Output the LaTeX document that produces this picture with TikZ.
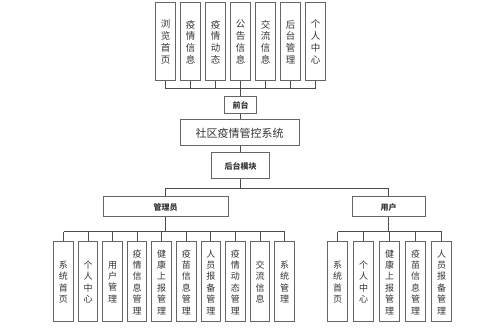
\documentclass[tikz,border=0pt]{standalone}
\usepackage{fontspec}
\setmainfont{Noto Sans CJK SC}
\usepackage{tikz}
\usetikzlibrary{positioning,calc}

\begin{document}
\begin{tikzpicture}[
  x=1pt, y=-1pt,
  every node/.style={font=\small, text=black!80},
  colbox/.style={draw=black!60, line width=1pt, minimum width=19.5pt,
                 minimum height=78pt, inner sep=0pt, align=center,
                 font=\fontsize{9.5}{11.8}\selectfont},
  subbox/.style={colbox, minimum height=80pt, font=\fontsize{9}{11.4}\selectfont},
  headbox/.style={draw=black!60, line width=1pt, minimum height=20pt, inner sep=0pt,
                  font=\fontsize{8}{9}\selectfont\bfseries},
  link/.style={draw=black!70, line width=1pt},
]
  \useasboundingbox (0,0) rectangle (499,331);
  % Front pages
  \node[colbox] (f1) at (165.5,42) {浏\\览\\首\\页};
  \node[colbox] (f2) at (190.5,42) {疫\\情\\信\\息};
  \node[colbox] (f3) at (215.5,42) {疫\\情\\动\\态};
  \node[colbox] (f4) at (240.5,42) {公\\告\\信\\息};
  \node[colbox] (f5) at (265.5,42) {交\\流\\信\\息};
  \node[colbox] (f6) at (290.5,42) {后\\台\\管\\理};
  \node[colbox] (f7) at (315.5,42) {个\\人\\中\\心};
  \coordinate (fbus) at (240.5,89);

  % Middle
  \node[headbox, minimum width=32pt, minimum height=17pt] (qt) at (240.5,105.5) {前台};
  \node[headbox, minimum width=119pt, minimum height=26pt,
        font=\fontsize{11}{12}\selectfont] (sys) at (239.5,133) {社区疫情管控系统};
  \node[headbox, minimum width=58pt, minimum height=26pt] (ht) at (240.5,166) {后台模块};
  \coordinate (hbus) at (240.5,189);

  % Roles
  \node[headbox, minimum width=125pt] (adm) at (165.5,207) {管理员};
  \node[headbox, minimum width=73pt] (usr) at (388.5,207) {用户};
  \coordinate (abus) at (165.5,232);
  \coordinate (ubus) at (388.5,232);

  % Admin modules
  \node[subbox] (a1) at (63.5,282) {系\\统\\首\\页};
  \node[subbox] (a2) at (88.1,282) {个\\人\\中\\心};
  \node[subbox] (a3) at (112.6,282) {用\\户\\管\\理};
  \node[subbox] (a4) at (137.2,282) {疫\\情\\信\\息\\管\\理};
  \node[subbox] (a5) at (161.7,282) {健\\康\\上\\报\\管\\理};
  \node[subbox] (a6) at (186.3,282) {疫\\苗\\信\\息\\管\\理};
  \node[subbox] (a7) at (210.9,282) {人\\员\\报\\备\\管\\理};
  \node[subbox] (a8) at (235.4,282) {疫\\情\\动\\态\\管\\理};
  \node[subbox] (a9) at (260.0,282) {交\\流\\信\\息};
  \node[subbox] (a10) at (284.5,282) {系\\统\\管\\理};

  % User modules
  \node[subbox] (u1) at (337.5,282) {系\\统\\首\\页};
  \node[subbox] (u2) at (363.5,282) {个\\人\\中\\心};
  \node[subbox] (u3) at (389.5,282) {健\\康\\上\\报\\管\\理};
  \node[subbox] (u4) at (415.5,282) {疫\\苗\\信\\息\\管\\理};
  \node[subbox] (u5) at (441.5,282) {人\\员\\报\\备\\管\\理};

  % Connectors
  \foreach \n in {f1,f2,f3,f4,f5,f6,f7}
    \draw[link] (\n.south) -- (\n.south |- fbus);
  \draw[link] (f1.south |- fbus) -- (f7.south |- fbus);
  \draw[link] (fbus) -- (qt.north);
  \draw[link] (qt.south) -- (qt.south |- sys.north);
  \draw[link] (ht.north |- sys.south) -- (ht.north);
  \draw[link] (ht.south) -- (hbus);
  \draw[link] (adm.north) -- (adm.north |- hbus) -- (usr.north |- hbus) -- (usr.north);
  \draw[link] (adm.south) -- (abus);
  \draw[link] (usr.south) -- (ubus);
  \foreach \n in {a1,a2,a3,a4,a5,a6,a7,a8,a9,a10}
    \draw[link] (\n.north) -- (\n.north |- abus);
  \draw[link] (a1.north |- abus) -- (a10.north |- abus);
  \foreach \n in {u1,u2,u3,u4,u5}
    \draw[link] (\n.north) -- (\n.north |- ubus);
  \draw[link] (u1.north |- ubus) -- (u5.north |- ubus);
\end{tikzpicture}
\end{document}
